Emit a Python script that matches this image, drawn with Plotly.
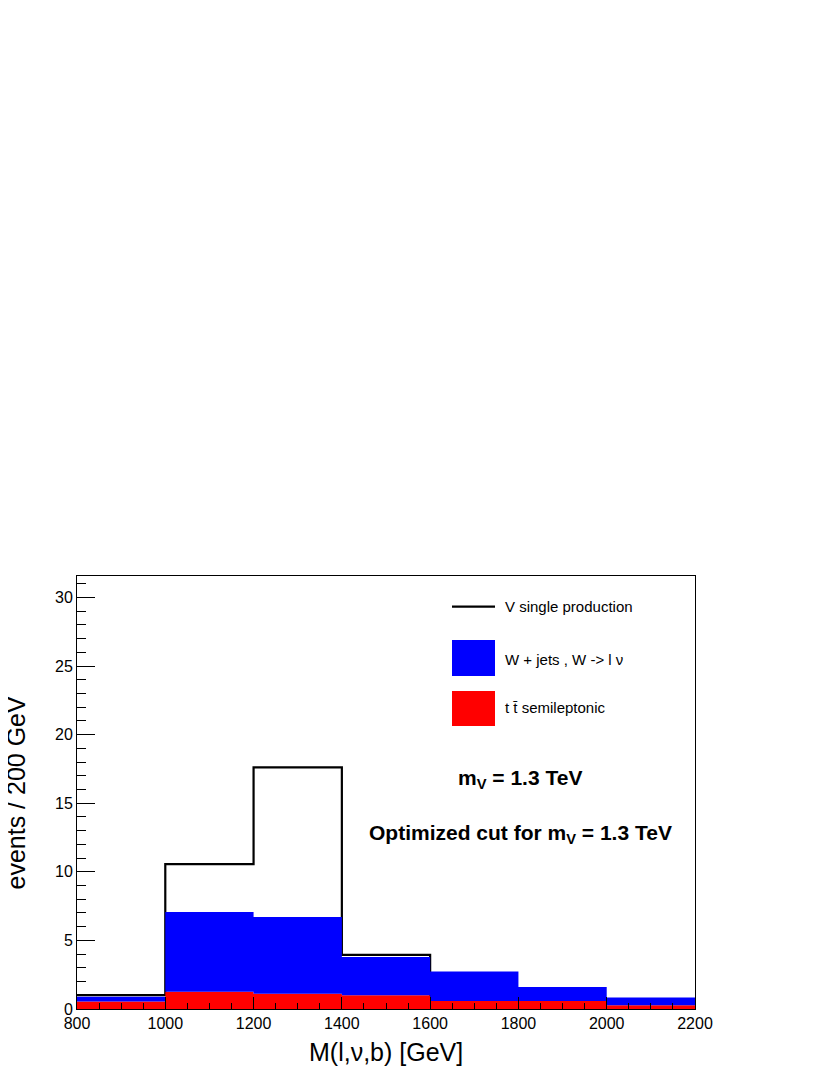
import plotly.graph_objects as go

# ---- data ----
bin_edges = [800, 1000, 1200, 1400, 1600, 1800, 2000, 2200]
signal_v = [1.01, 10.56, 17.62, 3.95, 0.0, 0.0, 0.0]          # V single production
ttbar_semilep = [0.55, 1.25, 1.12, 1.01, 0.58, 0.58, 0.27]    # t tbar semileptonic
wjets = [0.35, 5.82, 5.58, 2.79, 2.16, 1.03, 0.56]            # W + jets

x_tick_vals = [800, 1000, 1200, 1400, 1600, 1800, 2000, 2200]
y_tick_vals = [0, 5, 10, 15, 20, 25, 30]

FONT = "Liberation Sans, Arial, Helvetica, sans-serif"

def step(vals):
    return list(vals) + [vals[-1]]

stack_top = [a + b for a, b in zip(ttbar_semilep, wjets)]

fig = go.Figure()

# signal drawn first (behind the stacked backgrounds, as in ROOT)
fig.add_trace(go.Scatter(
    x=bin_edges, y=step(signal_v), mode="lines",
    line=dict(shape="hv", color="black", width=2.2),
    name="V single production", showlegend=False, hoverinfo="skip"))

fig.add_trace(go.Scatter(
    x=bin_edges, y=step(ttbar_semilep), mode="lines",
    line=dict(shape="hv", color="red", width=0),
    fill="tozeroy", fillcolor="#ff0000",
    name="t tbar semileptonic", showlegend=False, hoverinfo="skip"))

fig.add_trace(go.Scatter(
    x=bin_edges, y=step(stack_top), mode="lines",
    line=dict(shape="hv", color="blue", width=0),
    fill="tonexty", fillcolor="#0000ff",
    name="W + jets", showlegend=False, hoverinfo="skip"))

# page has an 8px body margin; figure placed at (8, 8)
OFF = 8
W, H = 834 - OFF, 1079 - OFF
PL, PR, PT, PB = 77, 695, 576, 1009     # plot-area edges in page pixels
L = PL - OFF
T = PT - OFF
R = W - (PR - OFF)
B = H - (PB - OFF)
pw = PR - PL
ph = PB - PT

def px_x(px):
    return (px - PL) / pw

def px_y(py):
    return (PB - py) / ph

fig.update_layout(
    width=W, height=H,
    margin=dict(l=L, r=R, t=T, b=B, pad=0),
    paper_bgcolor="white", plot_bgcolor="white",
    font=dict(family=FONT, color="black"),
    showlegend=False,
)

fig.update_xaxes(
    range=[800, 2200], tickvals=x_tick_vals, ticktext=[str(v) for v in x_tick_vals],
    ticks="inside", ticklen=12, tickwidth=1, tickcolor="black",
    minor=dict(dtick=50, tick0=800, ticks="inside", ticklen=6, tickwidth=1, tickcolor="black"),
    showline=True, linecolor="black", linewidth=1, mirror=True,
    showgrid=False, zeroline=False, layer="above traces",
    tickfont=dict(size=16, family=FONT, color="black"),
)
fig.update_yaxes(
    range=[0, 31.57], tickvals=y_tick_vals, ticktext=[str(v) for v in y_tick_vals],
    ticks="inside", ticklen=18, tickwidth=1, tickcolor="black",
    minor=dict(dtick=1, tick0=0, ticks="inside", ticklen=9, tickwidth=1, tickcolor="black"),
    showline=True, linecolor="black", linewidth=1, mirror=True,
    showgrid=False, zeroline=False, layer="above traces",
    tickfont=dict(size=16, family=FONT, color="black"),
)

# axis titles
fig.add_annotation(text="events / 200 GeV", xref="paper", yref="paper",
                   x=px_x(15), y=0.5, xanchor="center", yanchor="middle",
                   textangle=-90, showarrow=False, font=dict(size=25, family=FONT))
fig.add_annotation(text="M(l,ν,b) [GeV]", xref="paper", yref="paper",
                   x=0.5, y=px_y(1052), xanchor="center", yanchor="middle",
                   showarrow=False, font=dict(size=25, family=FONT))

# legend (drawn manually to match the ROOT legend)
fig.add_shape(type="line", xref="paper", yref="paper",
              x0=px_x(452), x1=px_x(495), y0=px_y(606.7), y1=px_y(606.7),
              line=dict(color="black", width=2.2))
fig.add_shape(type="rect", xref="paper", yref="paper",
              x0=px_x(452), x1=px_x(495), y0=px_y(676), y1=px_y(640),
              fillcolor="#0000ff", line=dict(width=0))
fig.add_shape(type="rect", xref="paper", yref="paper",
              x0=px_x(452), x1=px_x(495), y0=px_y(726), y1=px_y(691),
              fillcolor="#ff0000", line=dict(width=0))
legend_texts = ["V single production", "W + jets , W -&gt; l ν", "t t\u0304 semileptonic"]
legend_y = [606.5, 659, 707]
for txt, yy in zip(legend_texts, legend_y):
    fig.add_annotation(text=txt, xref="paper", yref="paper",
                       x=px_x(503), y=px_y(yy), xanchor="left", yanchor="middle",
                       showarrow=False, font=dict(size=15, family=FONT))

fig.add_annotation(text="<b>m<sub>V</sub> = 1.3 TeV</b>", xref="paper", yref="paper",
                   x=px_x(520), y=px_y(778.5), xanchor="center", yanchor="middle",
                   showarrow=False, font=dict(size=21, family=FONT))
fig.add_annotation(text="<b>Optimized cut for m<sub>V</sub> = 1.3 TeV</b>", xref="paper", yref="paper",
                   x=px_x(520), y=px_y(834), xanchor="center", yanchor="middle",
                   showarrow=False, font=dict(size=21, family=FONT))

fig.write_html("out.html")
